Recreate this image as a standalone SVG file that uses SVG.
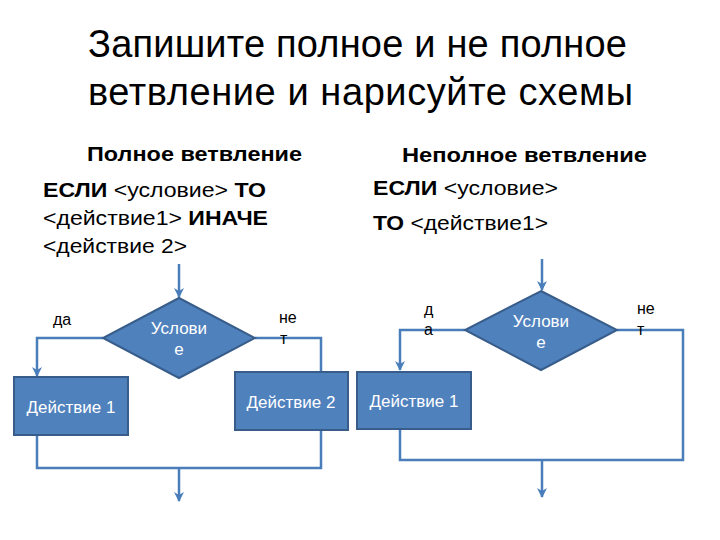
<svg xmlns="http://www.w3.org/2000/svg" width="720" height="540" viewBox="0 0 720 540">
<style>
text{font-family:"Liberation Sans",Arial,sans-serif;fill:#000}
.title{font-size:38px}
.h{font-size:21px;font-weight:bold}
.t{font-size:21px}
.b{font-weight:bold}
.shape{fill:#4F81BD;stroke:#385D8A;stroke-width:2}
.lbl{font-size:17px;fill:#fff;text-anchor:middle}
.yn{font-size:16px}
.conn{fill:none;stroke:#4A7EBB;stroke-width:2.5}
</style>
<defs>
<marker id="arr" viewBox="0 0 10 10" refX="9" refY="5" markerWidth="4" markerHeight="4" orient="auto" markerUnits="strokeWidth">
<path d="M0,0 L10,5 L0,10 L3,5 Z" fill="#4A7EBB"/>
</marker>
</defs>
<g id="title">
<text class="title" x="88" y="57" textLength="539">Запишите полное и не полное</text>
<text class="title" x="88" y="105" textLength="545">ветвление и нарисуйте схемы</text>
</g>
<g id="left-text">
<text class="h" x="87" y="161" textLength="215" lengthAdjust="spacingAndGlyphs">Полное ветвление</text>
<text class="t" x="43" y="197" textLength="223" lengthAdjust="spacingAndGlyphs"><tspan class="b">ЕСЛИ</tspan> &lt;условие&gt; <tspan class="b">ТО</tspan></text>
<text class="t" x="43" y="225" textLength="225" lengthAdjust="spacingAndGlyphs">&lt;действие1&gt; <tspan class="b">ИНАЧЕ</tspan></text>
<text class="t" x="43" y="253" textLength="144" lengthAdjust="spacingAndGlyphs">&lt;действие 2&gt;</text>
</g>
<g id="right-text">
<text class="h" x="402" y="162" textLength="245" lengthAdjust="spacingAndGlyphs">Неполное ветвление</text>
<text class="t" x="373" y="195" textLength="185" lengthAdjust="spacingAndGlyphs"><tspan class="b">ЕСЛИ</tspan> &lt;условие&gt;</text>
<text class="t" x="373" y="230" textLength="175" lengthAdjust="spacingAndGlyphs"><tspan class="b">ТО</tspan> &lt;действие1&gt;</text>
</g>
<g id="connectors">
<path class="conn" d="M179,264 L179,297" marker-end="url(#arr)"/>
<path class="conn" d="M103,338 L37,338 L37,376" marker-end="url(#arr)"/>
<path class="conn" d="M255,338 L321,338 L321,372"/>
<path class="conn" d="M37,435 L37,468 L321,468 L321,430"/>
<path class="conn" d="M179,468 L179,501" marker-end="url(#arr)"/>
<path class="conn" d="M542,259 L542,290" marker-end="url(#arr)"/>
<path class="conn" d="M465,330 L400,330 L400,370" marker-end="url(#arr)"/>
<path class="conn" d="M617,330 L683,330 L683,460 L400,460 L400,429"/>
<path class="conn" d="M542,460 L542,497" marker-end="url(#arr)"/>
</g>
<g id="cond1">
<polygon class="shape" points="179,298 255,338 179,378 103,338"/>
<text class="lbl" x="179" y="334">Услови</text>
<text class="lbl" x="179" y="355">е</text>
</g>
<g id="act1">
<rect class="shape" x="14" y="377" width="114" height="58"/>
<text class="lbl" x="71" y="413">Действие 1</text>
</g>
<g id="act2">
<rect class="shape" x="235" y="372" width="113" height="58"/>
<text class="lbl" x="291" y="408">Действие 2</text>
</g>
<g id="cond2">
<polygon class="shape" points="541,291 617,330 541,370 465,330"/>
<text class="lbl" x="541" y="327">Услови</text>
<text class="lbl" x="541" y="348">е</text>
</g>
<g id="act3">
<rect class="shape" x="357" y="372" width="114" height="57"/>
<text class="lbl" x="414" y="407">Действие 1</text>
</g>
<g id="labels">
<text class="yn" x="53" y="325">да</text>
<text class="yn" x="279" y="323">не</text>
<text class="yn" x="280" y="344">т</text>
<text class="yn" x="424" y="315">д</text>
<text class="yn" x="424" y="335">а</text>
<text class="yn" x="637" y="314">не</text>
<text class="yn" x="637" y="335">т</text>
</g>
</svg>
